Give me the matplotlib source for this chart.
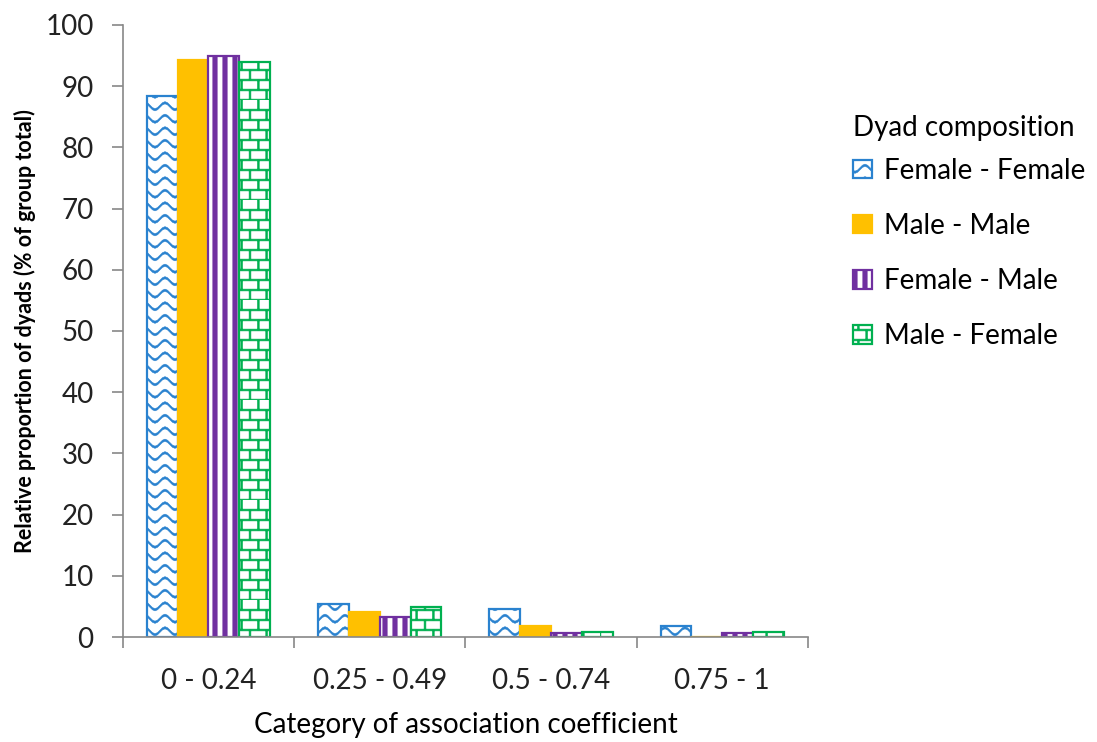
import warnings
import numpy as np
import matplotlib
matplotlib.use('Agg')
import matplotlib.pyplot as plt
from matplotlib import hatch as mhatch
from matplotlib.path import Path

warnings.filterwarnings('ignore')

categories = ['0 - 0.24', '0.25 - 0.49', '0.5 - 0.74', '0.75 - 1']
series = ['Female - Female', 'Male - Male', 'Female - Male', 'Male - Female']
female_female = [88.4, 5.4, 4.6, 1.8]
male_male = [94.3, 4.1, 1.8, 0.0]
female_male = [94.9, 3.3, 0.65, 0.65]
male_female = [94.0, 4.9, 0.8, 0.8]
yticks = [0, 10, 20, 30, 40, 50, 60, 70, 80, 90, 100]


# custom hatches (agg fills the hatch path, so use closed shapes)
def rect(vertices, codes, k, x0, y0, x1, y1):
    vertices[k:k + 5] = [(x0, y0), (x1, y0), (x1, y1), (x0, y1), (x0, y0)]
    codes[k] = Path.MOVETO
    codes[k + 1:k + 4] = Path.LINETO
    codes[k + 4] = Path.CLOSEPOLY
    return k + 5


class WaveHatch(mhatch.HatchPatternBase):
    npts = 41
    half = 0.011

    def __init__(self, hatch, density):
        self.num_lines = 8 if '~' in hatch else 0
        self.num_vertices = self.num_lines * (self.npts * 2 + 1)

    def set_vertices_and_codes(self, vertices, codes):
        x = np.linspace(0, 1, self.npts)
        n = self.npts * 2 + 1
        for i in range(self.num_lines):
            y = (i + 0.5) / self.num_lines + 0.035 * np.sin(2 * np.pi * 5 * x)
            k = i * n
            vertices[k:k + self.npts, 0] = x
            vertices[k:k + self.npts, 1] = y + self.half
            vertices[k + self.npts:k + 2 * self.npts, 0] = x[::-1]
            vertices[k + self.npts:k + 2 * self.npts, 1] = (y - self.half)[::-1]
            vertices[k + 2 * self.npts] = vertices[k]
            codes[k:k + n] = Path.LINETO
            codes[k] = Path.MOVETO
            codes[k + n - 1] = Path.CLOSEPOLY


class BrickHatch(mhatch.HatchPatternBase):
    rows = 10
    cols = 6
    t = 0.009

    def __init__(self, hatch, density):
        self.on = 'b' in hatch
        self.num_vertices = (self.rows * 5 + self.rows * self.cols * 5) if self.on else 0

    def set_vertices_and_codes(self, vertices, codes):
        k = 0
        t = self.t
        for i in range(self.rows):
            y0 = i / self.rows
            y1 = (i + 1) / self.rows
            k = rect(vertices, codes, k, 0, y0 - t, 1, y0 + t)
            for j in range(self.cols):
                xx = (j + 0.5 * (i % 2)) / self.cols
                k = rect(vertices, codes, k, xx - t, y0, xx + t, y1)


class StripeHatch(mhatch.HatchPatternBase):
    t = 0.022

    def __init__(self, hatch, density):
        self.num_lines = 10 if 'v' in hatch else 0
        self.num_vertices = self.num_lines * 5

    def set_vertices_and_codes(self, vertices, codes):
        k = 0
        for i in range(self.num_lines):
            xx = (i + 0.5) / self.num_lines
            k = rect(vertices, codes, k, xx - self.t, 0, xx + self.t, 1)


mhatch._hatch_types.append(WaveHatch)
mhatch._hatch_types.append(BrickHatch)
mhatch._hatch_types.append(StripeHatch)

plt.rcParams['font.family'] = ['Lato', 'DejaVu Sans']
plt.rcParams['hatch.linewidth'] = 0.4

colors = ['#2a82cf', '#FFC000', '#7030A0', '#00B050']
facecols = ['white', '#FFC000', 'white', 'white']
hatches = ['~', None, 'v', 'b']
values = [female_female, male_male, female_male, male_female]

fig = plt.figure(figsize=(10.97, 7.42), dpi=100)
ax = fig.add_axes([0.112, 0.1415, 0.6245, 0.825])

x = np.arange(len(categories))
w = 0.18
for i in range(4):
    ax.bar(x + (i - 1.5) * w, values[i], w, facecolor=facecols[i],
           edgecolor=colors[i], hatch=hatches[i], linewidth=1.6,
           label=series[i], zorder=2)

ax.set_xlim(-0.5, 3.5)
ax.set_ylim(0, 100)
ax.set_yticks(yticks)
ax.tick_params(axis='y', labelsize=20, length=8, color='#888888', width=1.2, pad=13,
               labelcolor='#222222')
ax.set_xticks(np.arange(-0.5, 4.0, 1.0))
ax.set_xticklabels([])
ax.set_xticks(x, minor=True)
ax.set_xticklabels(categories, minor=True)
ax.tick_params(axis='x', which='major', length=8, color='#888888', width=1.2)
ax.tick_params(axis='x', which='minor', length=0, labelsize=20, pad=22,
               labelcolor='#222222')

for s in ['top', 'right']:
    ax.spines[s].set_visible(False)
for s in ['left', 'bottom']:
    ax.spines[s].set_color('#888888')
    ax.spines[s].set_linewidth(1.2)

ax.set_ylabel('Relative proportion of dyads (% of group total)', fontsize=15.5,
              fontweight='bold', labelpad=7)
ax.set_xlabel('Category of association coefficient', fontsize=20, labelpad=13)

leg = ax.legend(title='Dyad composition', loc='upper left', bbox_to_anchor=(1.03, 0.8935),
                frameon=False, fontsize=20, title_fontsize=20, handlelength=0.65,
                handleheight=0.65, handletextpad=0.45, labelspacing=1.05)
leg._legend_box.align = 'left'
leg._legend_box.sep = 12  # tighter gap under the title

fig.savefig('out.png', dpi=100)
